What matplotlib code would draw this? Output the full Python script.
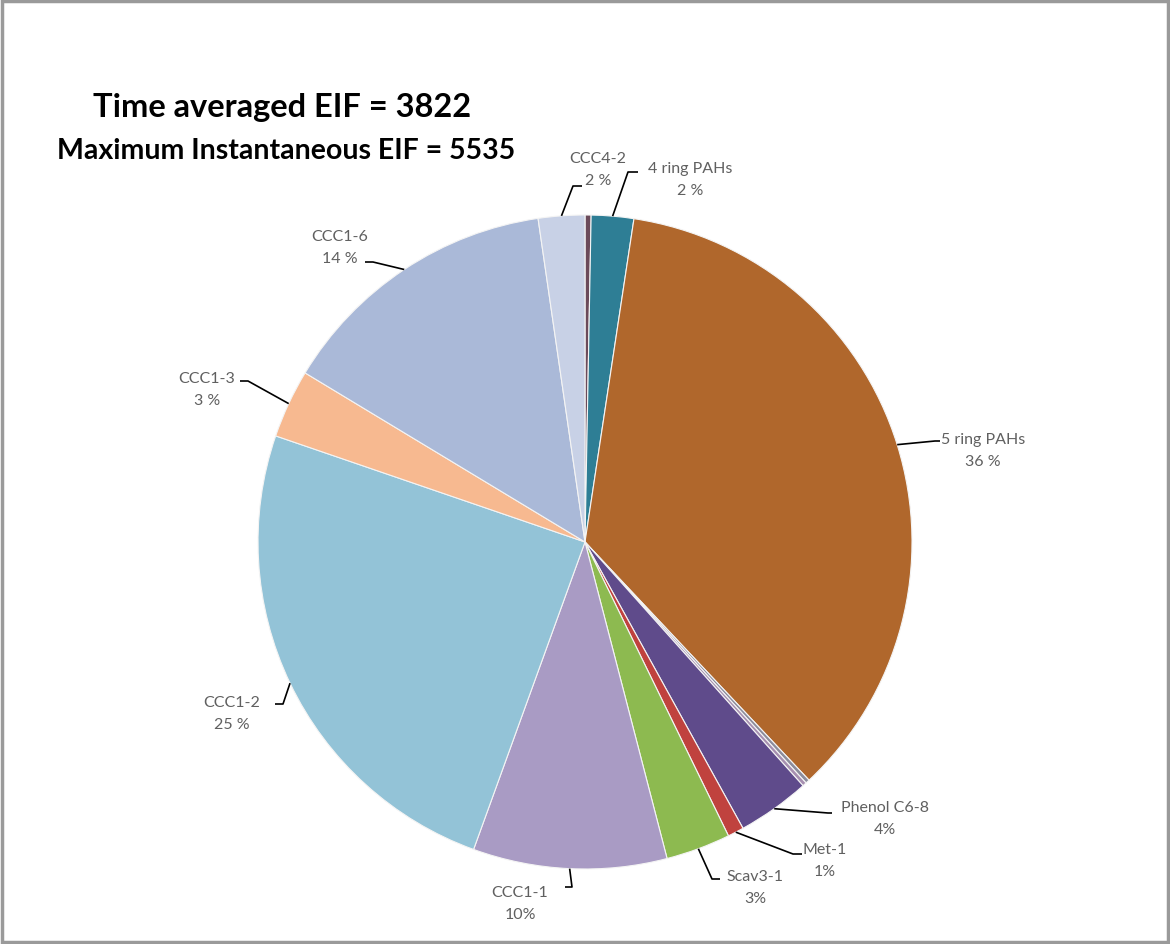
import numpy as np
import matplotlib.pyplot as plt
from matplotlib.patches import Rectangle

# slice data, clockwise from 12 o'clock
components = ['Other', '4 ring PAHs', '5 ring PAHs', 'Other 2', 'Other 3', 'Phenol C6-8',
              'Met-1', 'Scav3-1', 'CCC1-1', 'CCC1-2', 'CCC1-3', 'CCC1-6', 'CCC4-2']
shares = [0.3, 2.1, 35.7, 0.2, 0.2, 3.6, 0.8, 3.2, 9.6, 24.8, 3.4, 14.1, 2.3]
colors = ['#6b4a5a', '#2e7e95', '#b0672c', '#8c8c9c', '#a68fb0', '#5f4b8b',
          '#c0423e', '#8dba50', '#a99bc4', '#93c3d7', '#f7b990', '#aab9d8', '#c8d1e6']
label_text = {
    'CCC4-2': 'CCC4-2\n2 %',
    '4 ring PAHs': '4 ring PAHs\n2 %',
    '5 ring PAHs': '5 ring PAHs\n36 %',
    'Phenol C6-8': 'Phenol C6-8\n4%',
    'Met-1': 'Met-1\n1%',
    'Scav3-1': 'Scav3-1\n3%',
    'CCC1-1': 'CCC1-1\n10%',
    'CCC1-2': 'CCC1-2\n25 %',
    'CCC1-3': 'CCC1-3\n3 %',
    'CCC1-6': 'CCC1-6\n14 %',
}

W, H = 1170, 945
CX, CY, R = 585, 543, 327  # pie centre / radius in pixels (from top)

# label layout: text centre, elbow point, line end (pixels from top)
layout = {
    'CCC4-2': ((598, 170), (573, 187), (582, 187)),
    '4 ring PAHs': ((690, 180), (628, 173), (638, 173)),
    '5 ring PAHs': ((983, 451), (935, 442), (940, 442)),
    'Phenol C6-8': ((885, 819), (828, 814), (832, 814)),
    'Met-1': ((825, 861), (793, 855), (802, 855)),
    'Scav3-1': ((755, 888), (712, 880), (720, 880)),
    'CCC1-1': ((520, 904), (572, 888), (565, 888)),
    'CCC1-2': ((232, 714), (283, 705), (275, 705)),
    'CCC1-3': ((207, 390), (248, 382), (240, 382)),
    'CCC1-6': ((340, 248), (373, 263), (365, 263)),
}

plt.rcParams['font.family'] = ['Lato', 'DejaVu Sans']

fig = plt.figure(figsize=(W / 100, H / 100), dpi=100)
ax = fig.add_axes([0, 0, 1, 1])

wedges, _ = ax.pie(shares, colors=colors, startangle=90, counterclock=False,
                   center=(CX, H - CY), radius=R, frame=True,
                   wedgeprops=dict(edgecolor='#f4f4f4', linewidth=0.8))
ax.set_xlim(0, W)
ax.set_ylim(0, H)
ax.axis('off')

for w, name in zip(wedges, components):
    if name not in label_text:
        continue
    mid = np.deg2rad((w.theta1 + w.theta2) / 2)
    ax_x = CX + R * np.cos(mid)
    ax_y = (H - CY) + R * np.sin(mid)
    (tx, ty), (ex, ey), (lx, ly) = layout[name]
    ax.plot([ax_x, ex, lx], [ax_y, H - ey, H - ly], color='black', lw=1.2,
            solid_capstyle='butt')
    ax.text(tx, H - ty, label_text[name], ha='center', va='center',
            fontsize=11.5, color='#606060', linespacing=1.75)

ax.text(282, H - 108, 'Time averaged EIF = 3822', ha='center', va='center',
        fontsize=23.5, fontweight='bold', color='black')
ax.text(286, H - 151, 'Maximum Instantaneous EIF = 5535', ha='center', va='center',
        fontsize=20.5, fontweight='bold', color='black')

# outer frame like the source image
fig.patches.append(Rectangle((0.0015, 0.002), 0.997, 0.996, transform=fig.transFigure,
                             fill=False, edgecolor='#9a9a9a', linewidth=2.5))

fig.savefig('out.png', dpi=100, facecolor='white')
